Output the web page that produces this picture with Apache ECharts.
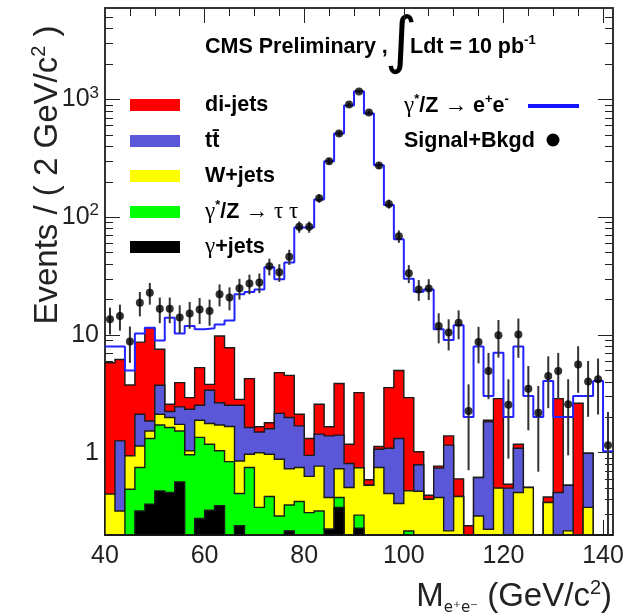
<!DOCTYPE html>
<html>
<head>
<meta charset="utf-8">
<script src="https://cdn.jsdelivr.net/npm/echarts@6/dist/echarts.min.js"></script>
<style>
html, body { margin: 0; padding: 0; background: #fff; }
#chart { width: 639px; height: 616px; }
</style>
</head>
<body>
<div id="chart"></div>
<script>
// M(e+e-) spectrum, 2 GeV bins from 40 to 142 GeV
var binLow = 40;
var binWidth = 2;

// background processes, events per bin (stacked bottom -> top)
var gammaJets = [0, 0, 0, 0.32, 0.366, 0.474, 0.459, 0.565, 0, 0.276,
    0.325, 0.354, 0, 0.24, 0, 0, 0, 0, 0.217, 0,
    0, 0, 0.224, 0.343, 0, 0.229, 0, 0, 0, 0,
    0, 0, 0, 0, 0, 0, 0, 0, 0, 0,
    0, 0, 0, 0, 0, 0, 0, 0, 0, 0, 0];
var zTauTau = [0, 0, 0.49, 0.43, 0.954, 1.246, 1.181, 0.965, 0.96, 1.074,
    0.855, 0.686, 0.84, 0.21, 0.75, 0.343, 0.425, 0.29, 0.143, 0.385,
    0.31, 0.32, 0, 0.074, 0, 0.066, 0, 0, 0, 0,
    0.216, 0, 0, 0, 0, 0, 0, 0, 0, 0,
    0, 0, 0, 0, 0, 0, 0, 0, 0, 0, 0];
var wJets = [0.445, 0.32, 0.45, 0.39, 0.21, 0.40, 0.35, 0.21, 0.08, 0.54,
    0.59, 0.68, 0.83, 0.40, 0.22, 0.657, 0.545, 0.59, 0.37, 0.365,
    0.32, 0.45, 0.193, 0.313, 0.506, 0.45, 0.53, 0.75, 0.45, 0.37,
    0.258, 0.47, 0.403, 0.417, 0.217, 0.425, 0, 0.29, 0.224, 0.5,
    0, 0.459, 0.506, 0, 0.378, 0, 0.217, 0, 0.343, 0, 0];
var ttbar = [0, 0.94, 0, 0.98, 0.33, 1.62, 0.25, 0.71, 1.30, 0.64,
    1.62, 0.94, 0.86, 1.68, 0.67, 0.50, 0.63, 1.28, 1.26, 0.94,
    0.32, 0.67, 0.973, 0.68, 0.304, 0, 0, 0.32, 0.64, 0.95,
    0, 0.32, 0, 0.323, 0.943, 0, 0, 0.326, 1.606, 0,
    0.5, 0.631, 0, 0, 0, 0.459, 0.313, 0, 0.647, 0, 0];
var diJets = [5.36, 4.94, 2.82, 6.58, 9.64, 3.83, 0.34, 1.49, 0.60, 2.75,
    0.42, 7.14, 5.27, 0.31, 2.62, 0.16, 0.20, 2.63, 2.55, 0.43,
    0.37, 1.14, 0.27, 2.46, 0.37, 2.495, 0.06, 0.06, 2.48, 3.68,
    2.466, 0.23, 0.032, 0.03, 0.23, 0.175, 0.24, 0, 0.06, 2.38,
    0.04, 0.09, 0, 0, 0.042, 2.42, 0, 2.63, 0, 0, 0];

// signal gamma*/Z -> ee (drawn as a line, not stacked)
var zee = [7.97, 7.97, 5.0, 10.3, 11.5, 9.0, 14.0, 10.3, 11.9, 11.2,
    11.4, 12.3, 13.3, 22.2, 23.2, 24.4, 37.6, 29.7, 41.4, 82,
    82, 142, 300, 515, 890, 1178, 762, 277, 127, 65,
    30, 23.3, 24.4, 11.2, 9.06, 12.1, 2.01, 7.97, 3.03, 7.07,
    2.01, 7.97, 3.03, 2.01, 4.07, 2.01, 2.01, 3.03, 3.03, 4.07, 1.03];

// pseudo data (signal + background) and its error bars
var dataVals = [13.6, 14.5, 8.8, 18.8, 22.9, 16.7, 16.7, 14.1, 15.2, 16.5,
    16.0, 22.2, 20.8, 25.0, 27.4, 28.0, 38.3, 34.1, 46.2, 83,
    83, 145, 300, 515, 908, 1170, 778, 275, 130, 69,
    33.4, 24.4, 24.8, 11.9, 10.5, 12.7, 2.26, 8.74, 4.95, 9.93,
    2.55, 10.1, 3.5, 2.19, 4.49, 4.95, 2.58, 5.63, 4.02, 4.21, 1.16];
var dataErr = [3.5, 3.6, 3.0, 4.4, 4.8, 4.1, 4.1, 3.8, 3.9, 4.1,
    4.0, 4.7, 4.6, 5.0, 5.2, 5.3, 6.2, 5.8, 6.8, 9.1,
    9.1, 12.0, 17.3, 22.7, 30.1, 34.2, 27.9, 16.6, 11.4, 8.3,
    5.8, 4.9, 5.0, 3.4, 3.1, 3.5, 1.55, 3.0, 2.1, 3.5,
    1.66, 3.7, 1.95, 1.5, 2.1, 2.1, 1.63, 2.4, 2.0, 2.1, 1.06];

// axis ticks and labels (ROOT style, ticks on all four sides)
var xLabels = [40, 60, 80, 100, 120, 140];
var xMajorTicks = [60, 80, 100, 120, 140];
var xMinorTicks = [45, 50, 55, 65, 70, 75, 85, 90, 95, 105, 110, 115, 125, 130, 135];
var yMajorTicks = [1, 10, 100, 1000];
var yMinorTicks = [0.3, 0.4, 0.5, 0.6, 0.7, 0.8, 0.9, 2, 3, 4, 5, 6, 7, 8, 9,
    20, 30, 40, 50, 60, 70, 80, 90, 200, 300, 400, 500, 600, 700, 800, 900,
    2000, 3000, 4000, 5000];

var xMin = 40, xMax = 142, yMin = 0.2, yMax = 6000;

var stackNames = ['γ+jets', 'γ*/Z → ττ', 'W+jets', 'tt̄', 'di-jets'];
var stackColors = ['#000000', '#00ff00', '#ffff00', '#5b57d9', '#ff0000'];
var processes = [gammaJets, zTauTau, wJets, ttbar, diJets];

// cumulative sums for the stack
var cum = [];
processes.forEach(function(p, k) {
    cum.push(p.map(function(v, i) { return v + (k > 0 ? cum[k - 1][i] : 0); }));
});

function stepPolygon(api, vals) {
    var pts = [api.coord([xMin, yMin])];
    for (var i = 0; i < vals.length; i++) {
        var v = Math.max(vals[i], yMin);
        pts.push(api.coord([binLow + i * binWidth, v]));
        pts.push(api.coord([binLow + (i + 1) * binWidth, v]));
    }
    pts.push(api.coord([xMax, yMin]));
    return pts;
}

var series = [];

// stacked histograms, largest cumulative first
for (var k = processes.length - 1; k >= 0; k--) {
    (function(k) {
        series.push({
            name: stackNames[k],
            type: 'custom', z: 3 + (processes.length - 1 - k), silent: true,
            data: [[binLow, 1]],
            renderItem: function(params, api) {
                return {
                    type: 'polygon',
                    shape: { points: stepPolygon(api, cum[k]) },
                    style: { fill: stackColors[k], stroke: '#1a1a1a', lineWidth: 1.4 }
                };
            }
        });
    })(k);
}

// signal line
var zeeLine = zee.map(function(v, i) { return [binLow + i * binWidth, v]; });
zeeLine.push([xMax, zee[zee.length - 1]]);
series.push({
    name: 'γ*/Z → e+e-', type: 'line', z: 9, step: 'end', silent: true,
    showSymbol: false, symbol: 'none', data: zeeLine,
    lineStyle: { color: '#2323ff', width: 2 }
});

// data error bars
series.push({
    type: 'custom', z: 10, silent: true,
    data: dataVals.map(function(v, i) {
        return [binLow + (i + 0.5) * binWidth, Math.max(v - dataErr[i], yMin * 0.9), v + dataErr[i]];
    }),
    renderItem: function(params, api) {
        var lo = api.coord([api.value(0), api.value(1)]);
        var hi = api.coord([api.value(0), api.value(2)]);
        return { type: 'line', shape: { x1: lo[0], y1: lo[1], x2: hi[0], y2: hi[1] },
            style: { stroke: '#333', lineWidth: 2 } };
    },
    clip: true
});
series.push({
    name: 'Signal+Bkgd', type: 'scatter', z: 11, silent: true,
    symbol: 'circle', symbolSize: 8,
    itemStyle: { color: '#000' },
    data: dataVals.map(function(v, i) { return [binLow + (i + 0.5) * binWidth, v]; })
});

var sansB = { fontFamily: 'Liberation Sans', fontWeight: 'bold', fontSize: 21.5, lineHeight: 26, fill: '#000' };
var greek = { fontFamily: 'Liberation Serif', fontSize: 23, lineHeight: 26, fill: '#000' };
var supS = { fontFamily: 'Liberation Sans', fontWeight: 'bold', fontSize: 13, lineHeight: 14, verticalAlign: 'top', fill: '#000' };

var legendRows = [
    { y: 105, color: '#ff0000', text: '{b|di-jets}' },
    { y: 141, color: '#5b57d9', text: '{b|tt̄}' },
    { y: 176, color: '#ffff00', text: '{b|W+jets}' },
    { y: 212, color: '#00ff00', text: '{g|γ}{s|*}{b|/Z }{g|→ τ τ}' },
    { y: 247, color: '#000000', text: '{g|γ}{b|+jets}' }
];

var graphics = [];
legendRows.forEach(function(r) {
    graphics.push({ type: 'rect', left: 130, top: r.y - 6, shape: { width: 50, height: 12 }, style: { fill: r.color } });
    graphics.push({ type: 'text', x: 205, y: r.y, style: { text: r.text, verticalAlign: 'middle',
        rich: { b: sansB, g: greek, s: supS } } });
});
graphics.push({ type: 'text', x: 404, y: 106, style: { text: '{g|γ}{s|*}{b|/Z }{g|→ }{b|e}{s|+}{b|e}{s|-}',
    verticalAlign: 'middle', rich: { b: sansB, g: greek, s: supS } } });
graphics.push({ type: 'line', shape: { x1: 528, y1: 106, x2: 579, y2: 106 }, style: { stroke: '#1515ff', lineWidth: 4 } });
graphics.push({ type: 'text', x: 404, y: 141, style: { text: '{b|Signal+Bkgd}', verticalAlign: 'middle', rich: { b: sansB } } });
graphics.push({ type: 'circle', shape: { cx: 553, cy: 140, r: 6.5 }, style: { fill: '#000' } });

// header
graphics.push({ type: 'text', x: 205, y: 47, style: { text: 'CMS Preliminary ,', verticalAlign: 'middle',
    font: 'bold 21.5px "Liberation Sans"', fill: '#000' } });
graphics.push({ type: 'text', x: 401, y: 45, style: { text: '∫', align: 'center', verticalAlign: 'middle',
    font: '62px "DejaVu Sans"', fill: '#000' } });
graphics.push({ type: 'text', x: 410, y: 47, style: { text: '{b|Ldt = 10 pb}{s|-1}', verticalAlign: 'middle',
    rich: { b: sansB, s: supS } } });

// axis titles
var titleRich = {
    t: { fontFamily: 'Liberation Sans', fontSize: 33, lineHeight: 38, fill: '#222' },
    u: { fontFamily: 'DejaVu Sans', fontSize: 15, lineHeight: 16, verticalAlign: 'bottom', fill: '#222' },
    s: { fontFamily: 'Liberation Sans', fontSize: 20, lineHeight: 20, verticalAlign: 'top', fill: '#222' }
};
graphics.push({ type: 'text', x: 48, y: 175, rotation: Math.PI / 2, style: {
    text: '{t|Events / ( 2 GeV/c}{s|2}{t| )}', align: 'center', verticalAlign: 'middle', rich: titleRich } });
graphics.push({ type: 'text', x: 612, y: 597, style: {
    text: '{t|M}{u|e⁺e⁻}{t| (GeV/c}{s|2}{t|)}', align: 'right', verticalAlign: 'middle', rich: titleRich } });

// axes: one axis per side for the frame line + long ticks, and an overlaid one for the short ticks
var frameLine = { show: true, lineStyle: { color: '#333', width: 2 } };
var tickLine = { color: '#222', width: 1 };
function xAx(pos, ticks, len, main) {
    return { type: 'value', min: xMin, max: xMax, interval: 20, position: pos, offset: 0,
        axisLine: main ? frameLine : { show: false }, splitLine: { show: false },
        axisTick: { show: true, inside: true, length: len, customValues: ticks, lineStyle: tickLine },
        axisLabel: (main && pos === 'bottom') ? {
            fontFamily: 'Liberation Sans', fontSize: 25, color: '#222', margin: 9,
            showMinLabel: true, showMaxLabel: true, customValues: xLabels
        } : { show: false } };
}
function yAx(pos, ticks, len, main) {
    return { type: 'log', logBase: 10, min: yMin, max: yMax, position: pos, offset: 0,
        axisLine: main ? frameLine : { show: false }, splitLine: { show: false },
        axisTick: { show: true, inside: true, length: len, customValues: ticks, lineStyle: tickLine },
        axisLabel: (main && pos === 'left') ? {
            fontFamily: 'Liberation Sans', fontSize: 25, color: '#222', margin: 6, lineHeight: 30,
            showMinLabel: true, showMaxLabel: true, customValues: yMajorTicks,
            formatter: function(v) {
                var e = Math.round(Math.log10(v));
                if (e === 0) return '1';
                if (e === 1) return '10';
                return '10{s|' + e + '}';
            },
            rich: { s: { fontFamily: 'Liberation Sans', fontSize: 17, lineHeight: 16, verticalAlign: 'top', color: '#222' } }
        } : { show: false } };
}

var chart = echarts.init(document.getElementById('chart'), null, { renderer: 'canvas' });
chart.setOption({
    animation: false,
    backgroundColor: '#fff',
    grid: { left: 105, right: 26, top: 8, bottom: 81 },
    xAxis: [
        xAx('bottom', xMajorTicks, 15, true),
        xAx('bottom', xMinorTicks, 8, false),
        xAx('top', xMajorTicks, 15, true),
        xAx('top', xMinorTicks, 8, false)
    ],
    yAxis: [
        yAx('left', yMajorTicks, 15, true),
        yAx('left', yMinorTicks, 8, false),
        yAx('right', yMajorTicks, 15, true),
        yAx('right', yMinorTicks, 8, false)
    ],
    series: series,
    graphic: graphics
});
</script>
</body>
</html>
